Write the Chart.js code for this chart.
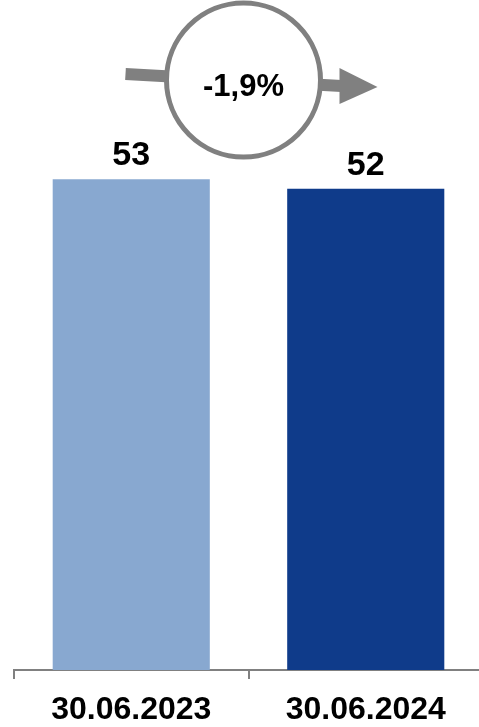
<!DOCTYPE html>
<html>
<head>
<meta charset="utf-8">
<script src="https://cdn.jsdelivr.net/npm/chart.js@4"></script>
<style>
  html, body { margin: 0; padding: 0; overflow: hidden; background: #fff; }
</style>
</head>
<body>
<canvas id="myBarChart" width="483" height="727"></canvas>
<script>
const categories = ['30.06.2023', '30.06.2024'];
const values = [53, 52];
const barColors = ['#88a8d0', '#0f3b8a'];
const changeLabel = '-1,9%';

// value labels over the bars
const valueLabels = {
    id: 'valueLabels',
    afterDatasetsDraw(chart) {
        const ctx = chart.ctx;
        const meta = chart.getDatasetMeta(0);
        ctx.save();
        ctx.font = 'bold 34px "Liberation Sans", Arial, sans-serif';
        ctx.fillStyle = '#000';
        ctx.textAlign = 'center';
        ctx.textBaseline = 'alphabetic';
        meta.data.forEach((bar, i) => {
            ctx.fillText(String(values[i]), bar.x, bar.y - 14);
        });
        ctx.restore();
    }
};

// arrow + circle with the change
const changeBadge = {
    id: 'changeBadge',
    afterDraw(chart) {
        const ctx = chart.ctx;
        const xs = chart.scales.x;
        const cx = (xs.getPixelForValue(0) + xs.getPixelForValue(1)) / 2 - 5;
        const cy = 80;
        ctx.save();
        ctx.fillStyle = '#808080';
        ctx.strokeStyle = '#808080';
        ctx.lineWidth = 12;
        ctx.beginPath();
        ctx.moveTo(cx - 118, 74);
        ctx.lineTo(cx + 98, 86);
        ctx.stroke();
        ctx.beginPath();
        ctx.moveTo(cx + 96, 68);
        ctx.lineTo(cx + 134, 87);
        ctx.lineTo(cx + 96, 104);
        ctx.closePath();
        ctx.fill();
        ctx.beginPath();
        ctx.arc(cx, cy, 77, 0, Math.PI * 2);
        ctx.fillStyle = '#fff';
        ctx.fill();
        ctx.lineWidth = 5;
        ctx.stroke();
        ctx.fillStyle = '#000';
        ctx.font = 'bold 31px "Liberation Sans", Arial, sans-serif';
        ctx.textAlign = 'center';
        ctx.textBaseline = 'middle';
        ctx.fillText(changeLabel, cx, cy + 7);
        ctx.restore();
    }
};

var ctx = document.getElementById('myBarChart').getContext('2d');

var myBarChart = new Chart(ctx, {
    type: 'bar',
    data: {
        labels: categories,
        datasets: [{
            data: values,
            backgroundColor: barColors,
            borderWidth: 0,
            barPercentage: 0.67,
            categoryPercentage: 1,
        }]
    },
    options: {
        responsive: false,
        animation: false,
        layout: {
            padding: { top: 22, left: 14, right: 0, bottom: 0 }
        },
        plugins: {
            legend: { display: false },
            tooltip: { enabled: false },
        },
        scales: {
            x: {
                offset: true,
                afterFit: (scale) => { scale.height = 57; },
                border: { color: '#808080', width: 2 },
                grid: {
                    drawOnChartArea: false,
                    color: '#808080',
                    lineWidth: 2,
                    tickLength: 9,
                },
                ticks: {
                    color: '#000',
                    padding: 12,
                    font: { family: '"Liberation Sans", Arial, sans-serif', size: 32, weight: 'bold' },
                },
            },
            y: {
                display: false,
                min: 0,
                max: 70,
            },
        },
    },
    plugins: [valueLabels, changeBadge],
});
</script>
</body>
</html>
